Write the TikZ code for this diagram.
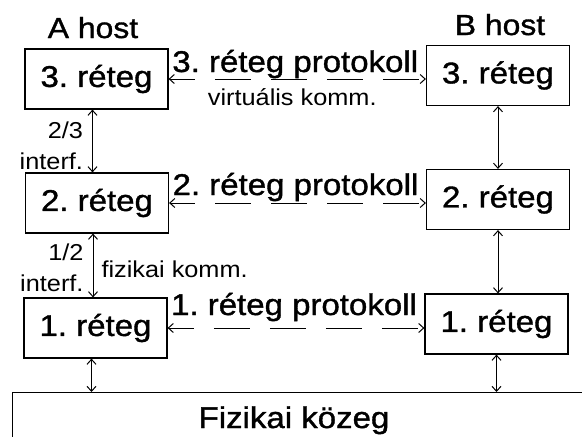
\documentclass[tikz,border=0pt]{standalone}
\usepackage{fontspec}
\setmainfont[FakeStretch=1.1]{Liberation Sans}
\newfontfamily\heavyfont[FakeBold=1.2, FakeStretch=1.1]{Liberation Sans}
\usetikzlibrary{arrows.meta}
\frenchspacing

\begin{document}
\begin{tikzpicture}[x=1pt, y=-1pt, >={Straight Barb[length=5pt,width=9pt]},
        layer/.style={draw, line width=1.2pt, minimum width=143pt, minimum height=60pt, inner sep=0pt, font=\heavyfont\fontsize{30}{30}\selectfont},
        host/.style={font=\heavyfont\fontsize{29}{29}\selectfont},
        proto/.style={font=\heavyfont\fontsize{30}{30}\selectfont, inner sep=0pt},
        note/.style={font=\fontsize{23}{31}\selectfont, inner sep=0pt},
        link/.style={<->, line width=1pt},
        talk/.style={<->, line width=1pt, dash pattern=on 36pt off 20pt, dash phase=11pt}]
        \useasboundingbox (0,0) rectangle (582,437);
        \clip (0,0) rectangle (582,437);

        % A host
        \node (hostA) at (93,38) [host, anchor=base] {A host};
        \node (a3) at (96.5,79) [layer] {3. réteg};
        \node (a2) at (97,203) [layer] {2. réteg};
        \node (a1) at (95.5,328) [layer] {1. réteg};

        % B host
        \node (hostB) at (500,35) [host, anchor=base] {B host};
        \node (b3) at (498,75.5) [layer] {3. réteg};
        \node (b2) at (498,199.5) [layer] {2. réteg};
        \node (b1) at (496.5,324) [layer] {1. réteg};

        % Physical medium
        \node (medium) at (12,392) [draw, line width=1.2pt, anchor=north west, minimum width=600pt, minimum height=80pt] {};
        \node (mediumtext) at (294,428) [anchor=base, font=\heavyfont\fontsize{30}{30}\selectfont] {Fizikai közeg};

        % Protocols between peers
        \draw[talk] (a3.east) -- (a3.east -| b3.west)
            node[proto, midway, anchor=base, xshift=-2pt, yshift=7pt] {3. réteg protokoll}
            node[note, midway, anchor=base, xshift=-5pt, yshift=-26pt] {virtuális komm.};
        \draw[talk] (a2.east) -- (a2.east -| b2.west)
            node[proto, midway, anchor=base, xshift=-2pt, yshift=8pt] {2. réteg protokoll};
        \draw[talk] (a1.east) -- (a1.east -| b1.west)
            node[proto, midway, anchor=base, xshift=-2pt, yshift=13pt] {1. réteg protokoll};

        % Interfaces
        \draw[link] ([xshift=-4pt]a3.south) -- ([xshift=-4pt]a3.south |- a2.north)
            node[note, midway, anchor=east, align=right, xshift=-9pt, yshift=-5pt] {2/3\\interf.};
        \draw[link] ([xshift=-4pt]a2.south) -- ([xshift=-4pt]a2.south |- a1.north)
            node[note, midway, anchor=east, align=right, xshift=-9pt, yshift=-2pt] {1/2\\interf.}
            node[note, midway, anchor=west, xshift=8pt, yshift=-3.5pt] {fizikai komm.};
        \draw[link] ([xshift=-4pt]a1.south) -- ([xshift=-4pt]a1.south |- medium.north);
        \draw[link] (b3.south) -- (b3.south |- b2.north);
        \draw[link] (b2.south) -- (b2.south |- b1.north);
        \draw[link] (b1.south) -- (b1.south |- medium.north);
    \end{tikzpicture}
\end{document}
